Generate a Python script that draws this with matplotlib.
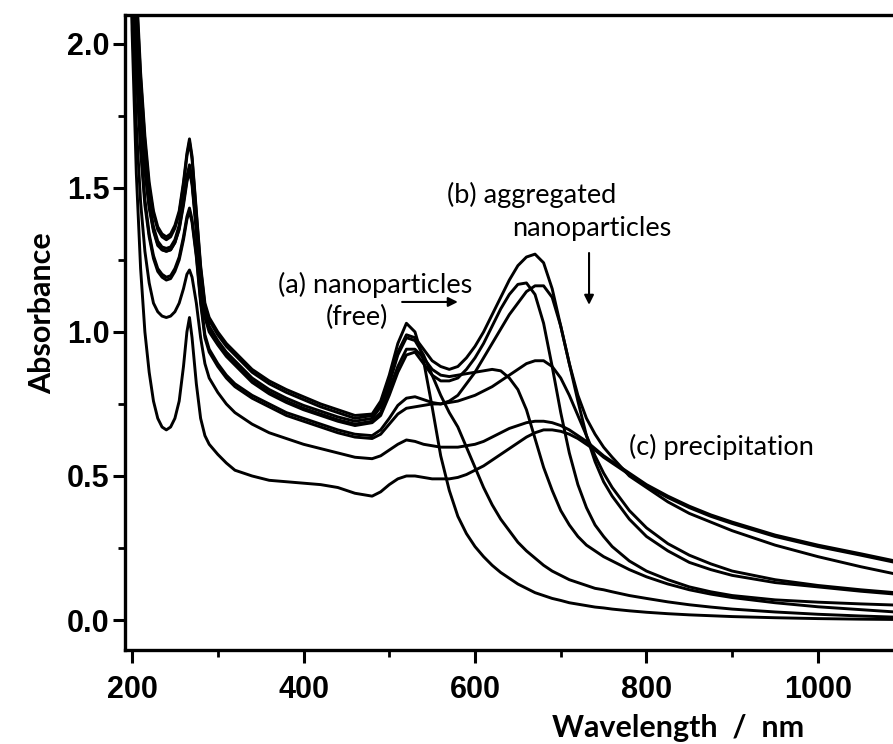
import matplotlib
matplotlib.use("Agg")
import matplotlib.pyplot as plt
from matplotlib.ticker import MultipleLocator

# Wavelength grid (nm)
wavelength = [196, 200, 205, 210, 215, 220, 225, 230, 235, 240,
              245, 250, 255, 260, 264, 267, 270, 275, 280, 285,
              290, 300, 310, 320, 340, 360, 380, 400, 420, 440,
              460, 480, 490, 500, 510, 520, 530, 540, 550, 560,
              570, 580, 590, 600, 610, 620, 630, 640, 650, 660,
              670, 680, 690, 700, 710, 720, 730, 740, 750, 760,
              780, 800, 825, 850, 875, 900, 950, 1000, 1050, 1090]

# (a) free nanoparticles
abs_free = [3.2, 2.6, 2.2, 1.9, 1.68, 1.52, 1.42, 1.365, 1.34, 1.33,
            1.34, 1.37, 1.42, 1.52, 1.62, 1.67, 1.61, 1.42, 1.23, 1.10,
            1.05, 1.00, 0.96, 0.93, 0.87, 0.83, 0.80, 0.775, 0.75, 0.73,
            0.71, 0.715, 0.76, 0.85, 0.96, 1.03, 1.00, 0.90, 0.74, 0.57,
            0.45, 0.36, 0.30, 0.255, 0.22, 0.19, 0.165, 0.145, 0.125, 0.11,
            0.095, 0.085, 0.075, 0.068, 0.06, 0.055, 0.05, 0.045, 0.042, 0.038,
            0.032, 0.027, 0.022, 0.018, 0.015, 0.012, 0.008, 0.005, 0.003, 0.002]

abs_early = [3.2, 2.45, 2.08, 1.80, 1.59, 1.45, 1.365, 1.315, 1.295, 1.29,
             1.295, 1.32, 1.37, 1.46, 1.54, 1.58, 1.53, 1.37, 1.19, 1.07,
             1.02, 0.97, 0.93, 0.90, 0.84, 0.80, 0.77, 0.745, 0.725, 0.705,
             0.69, 0.70, 0.74, 0.82, 0.92, 0.98, 0.97, 0.92, 0.85, 0.78,
             0.72, 0.67, 0.60, 0.53, 0.46, 0.40, 0.35, 0.31, 0.27, 0.24,
             0.215, 0.19, 0.17, 0.155, 0.14, 0.13, 0.12, 0.11, 0.105, 0.098,
             0.085, 0.075, 0.063, 0.053, 0.045, 0.038, 0.028, 0.02, 0.014, 0.01]

abs_shoulder = [3.2, 2.43, 2.06, 1.78, 1.57, 1.44, 1.355, 1.305, 1.285, 1.28,
                1.285, 1.31, 1.36, 1.45, 1.53, 1.57, 1.52, 1.36, 1.18, 1.06,
                1.01, 0.96, 0.92, 0.89, 0.83, 0.79, 0.76, 0.735, 0.715, 0.695,
                0.68, 0.69, 0.72, 0.80, 0.88, 0.94, 0.94, 0.91, 0.87, 0.85,
                0.845, 0.85, 0.855, 0.86, 0.865, 0.87, 0.865, 0.84, 0.80, 0.73,
                0.63, 0.53, 0.45, 0.38, 0.33, 0.29, 0.26, 0.24, 0.22, 0.205,
                0.175, 0.15, 0.125, 0.105, 0.09, 0.078, 0.06, 0.046, 0.036, 0.028]

abs_agg1 = [3.2, 2.42, 2.05, 1.77, 1.56, 1.43, 1.35, 1.30, 1.285, 1.28,
            1.285, 1.31, 1.355, 1.44, 1.52, 1.56, 1.51, 1.35, 1.17, 1.05,
            1.00, 0.955, 0.915, 0.885, 0.825, 0.785, 0.755, 0.73, 0.71, 0.69,
            0.675, 0.685, 0.71, 0.78, 0.86, 0.92, 0.93, 0.89, 0.85, 0.83,
            0.83, 0.84, 0.87, 0.91, 0.96, 1.02, 1.08, 1.13, 1.165, 1.17,
            1.13, 1.03, 0.88, 0.72, 0.58, 0.47, 0.39, 0.33, 0.29, 0.255,
            0.205, 0.17, 0.14, 0.115, 0.098, 0.085, 0.07, 0.062, 0.056, 0.052]

# (b) aggregated nanoparticles, highest band
abs_agg2 = [3.2, 2.55, 2.17, 1.88, 1.66, 1.50, 1.41, 1.355, 1.33, 1.32,
            1.33, 1.36, 1.41, 1.51, 1.61, 1.66, 1.60, 1.41, 1.22, 1.09,
            1.04, 0.99, 0.95, 0.92, 0.86, 0.82, 0.79, 0.765, 0.74, 0.72,
            0.70, 0.71, 0.75, 0.83, 0.93, 0.99, 0.98, 0.94, 0.90, 0.88,
            0.87, 0.88, 0.91, 0.95, 1.00, 1.06, 1.12, 1.18, 1.23, 1.26,
            1.27, 1.24, 1.15, 1.02, 0.89, 0.78, 0.70, 0.645, 0.60, 0.565,
            0.50, 0.46, 0.41, 0.37, 0.34, 0.31, 0.26, 0.22, 0.185, 0.16]

abs_agg3 = [3.2, 2.3, 1.92, 1.65, 1.46, 1.34, 1.265, 1.22, 1.20, 1.19,
            1.195, 1.22, 1.26, 1.33, 1.40, 1.43, 1.39, 1.27, 1.11, 0.99,
            0.94, 0.89, 0.85, 0.82, 0.78, 0.75, 0.72, 0.70, 0.68, 0.66,
            0.645, 0.64, 0.66, 0.70, 0.745, 0.77, 0.775, 0.765, 0.755, 0.75,
            0.76, 0.78, 0.82, 0.86, 0.91, 0.96, 1.01, 1.06, 1.10, 1.14,
            1.16, 1.16, 1.12, 1.02, 0.89, 0.76, 0.64, 0.55, 0.48, 0.43,
            0.35, 0.29, 0.24, 0.20, 0.175, 0.155, 0.13, 0.115, 0.10, 0.09]

abs_late = [3.2, 2.28, 1.90, 1.63, 1.44, 1.33, 1.255, 1.21, 1.19, 1.18,
            1.185, 1.21, 1.25, 1.32, 1.39, 1.42, 1.38, 1.26, 1.10, 0.98,
            0.93, 0.88, 0.84, 0.81, 0.77, 0.74, 0.71, 0.69, 0.67, 0.65,
            0.635, 0.63, 0.645, 0.68, 0.715, 0.735, 0.74, 0.745, 0.75, 0.75,
            0.755, 0.76, 0.77, 0.78, 0.795, 0.81, 0.83, 0.85, 0.87, 0.89,
            0.90, 0.90, 0.88, 0.84, 0.78, 0.71, 0.64, 0.57, 0.51, 0.46,
            0.38, 0.32, 0.265, 0.225, 0.195, 0.17, 0.14, 0.12, 0.105, 0.095]

# (c) precipitation
abs_precip1 = [3.2, 2.1, 1.72, 1.45, 1.28, 1.17, 1.10, 1.07, 1.055, 1.05,
               1.055, 1.07, 1.10, 1.15, 1.20, 1.215, 1.19, 1.10, 0.98, 0.89,
               0.84, 0.79, 0.75, 0.72, 0.68, 0.65, 0.63, 0.61, 0.595, 0.58,
               0.565, 0.56, 0.57, 0.59, 0.61, 0.625, 0.62, 0.61, 0.605, 0.60,
               0.60, 0.60, 0.605, 0.61, 0.62, 0.635, 0.65, 0.665, 0.675, 0.685,
               0.69, 0.69, 0.685, 0.675, 0.66, 0.64, 0.62, 0.595, 0.57, 0.55,
               0.51, 0.47, 0.43, 0.395, 0.365, 0.34, 0.295, 0.26, 0.23, 0.205]

abs_precip2 = [3.2, 2.05, 1.55, 1.22, 1.0, 0.86, 0.76, 0.70, 0.67, 0.66,
               0.67, 0.70, 0.76, 0.88, 1.0, 1.05, 0.98, 0.82, 0.70, 0.64,
               0.61, 0.575, 0.545, 0.52, 0.50, 0.485, 0.48, 0.475, 0.47, 0.46,
               0.44, 0.43, 0.445, 0.47, 0.49, 0.50, 0.50, 0.495, 0.49, 0.49,
               0.49, 0.495, 0.505, 0.52, 0.535, 0.555, 0.575, 0.595, 0.615, 0.635,
               0.65, 0.66, 0.66, 0.655, 0.645, 0.63, 0.61, 0.59, 0.565, 0.545,
               0.505, 0.465, 0.425, 0.39, 0.36, 0.335, 0.29, 0.255, 0.225, 0.20]

spectra = [abs_free, abs_early, abs_shoulder, abs_agg1, abs_agg2,
           abs_agg3, abs_late, abs_precip1, abs_precip2]

x_ticks = [200, 400, 600, 800, 1000]
y_ticks = [0.0, 0.5, 1.0, 1.5, 2.0]

W, H = 893, 744
fig = plt.figure(figsize=(W / 100, H / 100), dpi=100)
ax = fig.add_axes([125 / W, 94 / H, 768 / W, 635 / H])

for spec in spectra:
    ax.plot(wavelength, spec, color="black", lw=2.1, solid_joinstyle="round")

ax.set_xlim(191.8, 1087.5)
ax.set_ylim(-0.104, 2.10)
ax.set_xticks(x_ticks)
ax.set_yticks(y_ticks)
ax.set_xticklabels([str(v) for v in x_ticks])
ax.set_yticklabels([f"{v:.1f}" for v in y_ticks])
ax.xaxis.set_minor_locator(MultipleLocator(100))
ax.yaxis.set_minor_locator(MultipleLocator(0.25))

ax.tick_params(axis="both", which="major", direction="out", length=9, width=2.2,
               labelsize=22)
ax.tick_params(axis="both", which="minor", direction="out", length=5, width=2)
ax.tick_params(axis="x", which="major", pad=9)
ax.tick_params(axis="y", which="major", pad=2)
for lab in ax.get_xticklabels() + ax.get_yticklabels():
    lab.set_fontfamily("Liberation Sans")
    lab.set_fontweight("bold")

for side in ["left", "bottom", "top"]:
    ax.spines[side].set_linewidth(2.4)
ax.spines["right"].set_visible(False)

fig.text(42 / W, 1 - 313 / H, "Absorbance", rotation=90, ha="center",
         va="center", fontsize=22, fontweight="bold", family="Lato")
fig.text(678 / W, 1 - 728 / H, "Wavelength  /  nm", ha="center", va="center",
         fontsize=22, fontweight="bold", family="Lato")

tkw = dict(fontsize=19.5, family="Lato", color="black", va="center", ha="left")
ax.text(370, 1.163, "(a) nanoparticles", **tkw)
ax.text(426, 1.05, "(free)", **tkw)
ax.text(567, 1.476, "(b) aggregated", **tkw)
ax.text(643, 1.36, "nanoparticles", **tkw)
ax.text(780, 0.60, "(c) precipitation", **tkw)

arrow = dict(arrowstyle="-|>", color="black", lw=1.5, mutation_scale=14,
             shrinkA=0, shrinkB=0)
ax.annotate("", xy=(580, 1.104), xytext=(515, 1.104), arrowprops=arrow)
ax.annotate("", xy=(733, 1.094), xytext=(733, 1.274), arrowprops=arrow)

fig.savefig("out.png", dpi=100, facecolor="white")
